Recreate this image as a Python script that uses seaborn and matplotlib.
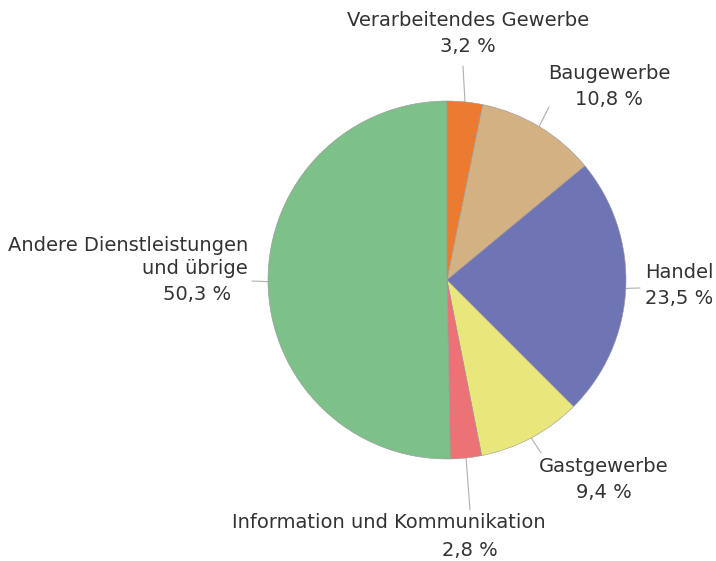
import numpy as np
import matplotlib
matplotlib.use('Agg')
import matplotlib.pyplot as plt
import seaborn as sns

sns.set_theme(style='white')
plt.rcParams['font.family'] = ['DejaVu Sans']

# Anteile in Prozent (im Uhrzeigersinn ab 12 Uhr)
branchen = ['Verarbeitendes Gewerbe', 'Baugewerbe', 'Handel', 'Gastgewerbe',
            'Information und Kommunikation', 'Andere Dienstleistungen\nund übrige']
anteile = [3.2, 10.8, 23.5, 9.4, 2.8, 50.3]
farben = ['#EB7B30', '#D3B183', '#6F74B4', '#E9E67B', '#EC7276', '#7EC089']

W, H = 716, 561
cx, cy, r = 447, 281, 179

fig = plt.figure(figsize=(W / 100, H / 100), dpi=100)
ax = fig.add_axes([0, 0, 1, 1])
wedges, _ = ax.pie(anteile, colors=farben, startangle=90, counterclock=False,
                   center=(cx, cy), radius=r,
                   wedgeprops=dict(linewidth=0.4, edgecolor='#999999'))
ax.set_xlim(0, W)
ax.set_ylim(0, H)
ax.set_aspect('equal')
ax.axis('off')

# Label-Layout: (Textposition x, y von oben), Ausrichtung, Endpunkt Leitlinie
layout = [
    ((468, 20), 'center', (463, 66)),
    ((609, 73), 'center', (549, 107)),
    ((645, 272), 'left', (640, 288)),
    ((604, 467), 'center', (541, 453)),
    ((389, 523), 'center', (470, 510)),
    ((248, 245), 'right', (252, 281)),
]
txt = '#333333'
fs = 14

for w, name, val, (pos, ha, lend) in zip(wedges, branchen, anteile, layout):
    mid = np.deg2rad((w.theta1 + w.theta2) / 2)
    x0 = cx + r * np.cos(mid)
    y0 = cy + r * np.sin(mid)
    ax.plot([x0, lend[0]], [y0, H - lend[1]], color='#b0b0b0', lw=0.8, zorder=0)
    pct = f'{val:.1f}'.replace('.', ',') + ' %'
    lines = name.split('\n')
    for i, ln in enumerate(lines):
        ax.text(pos[0], H - pos[1] - i * 23, ln, ha=ha, va='center',
                fontsize=fs, color=txt)
    py = H - pos[1] - len(lines) * 26
    if name.startswith('Information'):
        ax.text(470, H - 550, pct, ha='center', va='center', fontsize=fs, color=txt)
    elif name.startswith('Andere'):
        ax.text(197, py + 3, pct, ha='center', va='center', fontsize=fs, color=txt)
    else:
        ax.text(pos[0], py, pct, ha=ha, va='center', fontsize=fs, color=txt)

fig.savefig('out.png', dpi=100, facecolor='white')
